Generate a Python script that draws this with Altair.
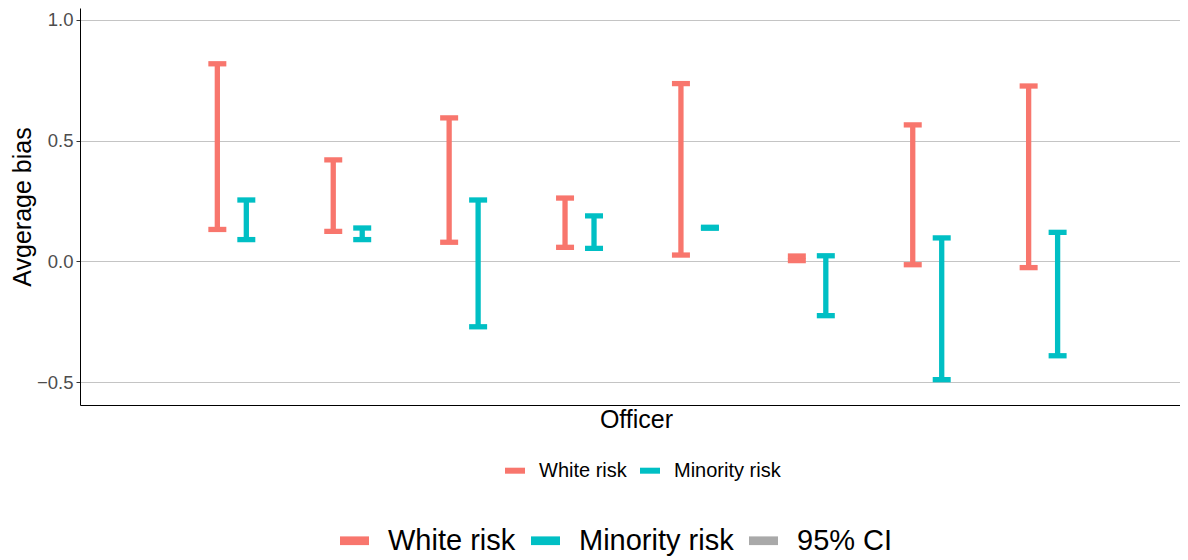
import altair as alt
import pandas as pd

officers = [1, 2, 3, 4, 5, 6, 7, 8]
white_lo = [0.132, 0.124, 0.079, 0.058, 0.026, 0.003, -0.014, -0.026]
white_hi = [0.818, 0.420, 0.594, 0.262, 0.736, 0.022, 0.565, 0.726]
minority_lo = [0.090, 0.090, -0.271, 0.054, 0.137, -0.225, -0.490, -0.391]
minority_hi = [0.254, 0.138, 0.254, 0.188, 0.141, 0.023, 0.097, 0.120]
groups = ["White risk", "Minority risk"]
group_colors = ["#F8766D", "#00BFC4"]
legend2_keys = ["White risk", "Minority risk", "95% CI"]
legend2_colors = ["#F8766D", "#00BFC4", "#A9A9A9"]
y_ticks = [-0.5, 0.0, 0.5, 1.0]

rows = []
for i, o in enumerate(officers):
    rows.append({"officer": o, "group": groups[0], "lo": white_lo[i], "hi": white_hi[i]})
    rows.append({"officer": o, "group": groups[1], "lo": minority_lo[i], "hi": minority_hi[i]})
df = pd.DataFrame(rows)
df2 = pd.DataFrame({"key": legend2_keys})

SYM = "M-1,-0.3H1V0.3H-1Z"

base = alt.Chart(df).transform_calculate(
    xpos="datum.officer + (datum.group === 'White risk' ? -0.125 : 0.125)"
)

xenc = alt.X(
    "xpos:Q",
    scale=alt.Scale(domain=[-0.31, 9.181], nice=False, zero=False),
    axis=alt.Axis(title="Officer", labels=False, ticks=False, grid=False,
                  domainColor="black", domainWidth=1, titleFontSize=25,
                  titleFontWeight="normal", titleColor="black", titlePadding=2,
                  titleX=556),
)
yscale = alt.Scale(domain=[-0.5949, 1.049], nice=False, zero=False)
yaxis = alt.Axis(values=y_ticks, format=".1f", title="Avgerage bias",
                 labelFontSize=18.5, labelColor="#4D4D4D", tickColor="#333333",
                 tickSize=4, labelPadding=3, domainColor="black", domainWidth=1,
                 gridColor="#C4C4C4", gridWidth=1, titleFontSize=25,
                 titleColor="black", titleFontWeight="normal", titlePadding=1)
cenc = alt.Color("group:N", scale=alt.Scale(domain=groups, range=group_colors), legend=None)

rule = base.mark_rule(strokeWidth=5.3, strokeCap="butt").encode(
    x=xenc, y=alt.Y("lo:Q", scale=yscale, axis=yaxis), y2="hi:Q", color=cenc
)
tick_lo = base.mark_tick(orient="horizontal", size=18, thickness=5.3, opacity=1).encode(
    x=xenc, y=alt.Y("lo:Q", scale=yscale, axis=yaxis), color=cenc
)
tick_hi = base.mark_tick(orient="horizontal", size=18, thickness=5.3, opacity=1).encode(
    x=xenc, y=alt.Y("hi:Q", scale=yscale, axis=yaxis), color=cenc
)

leg1 = base.mark_point(filled=True, opacity=0).encode(
    x=xenc, y=alt.Y("lo:Q", scale=yscale, axis=yaxis),
    color=alt.Color("group:N", scale=alt.Scale(domain=groups, range=group_colors),
                    legend=alt.Legend(title=None, orient="none", legendX=425, legendY=452.7,
                                      direction="horizontal", labelFontSize=20,
                                      labelColor="black", symbolSize=400, symbolType=SYM,
                                      symbolStrokeWidth=0, symbolOpacity=1, labelOffset=14,
                                      columnPadding=13, padding=0)),
)
leg2 = alt.Chart(df2).mark_point(filled=True, opacity=0).encode(
    color=alt.Color("key:N", scale=alt.Scale(domain=legend2_keys, range=legend2_colors),
                    legend=alt.Legend(title=None, orient="none", legendX=260, legendY=518,
                                      direction="horizontal", labelFontSize=29,
                                      labelColor="black", symbolSize=841, symbolType=SYM,
                                      symbolStrokeWidth=0, symbolOpacity=1, labelOffset=19,
                                      columnPadding=15, padding=0)),
)

chart = alt.layer(rule, tick_lo, tick_hi, leg1, leg2).resolve_scale(
    color="independent"
).properties(
    width=1100, height=397,
    autosize=alt.AutoSizeParams(type="none"),
    padding={"left": 72, "top": 0, "right": 0, "bottom": 152},
).configure(font="Liberation Sans").configure_view(strokeWidth=0)

chart.save("out.html", embed_options={"renderer": "svg", "actions": False})
